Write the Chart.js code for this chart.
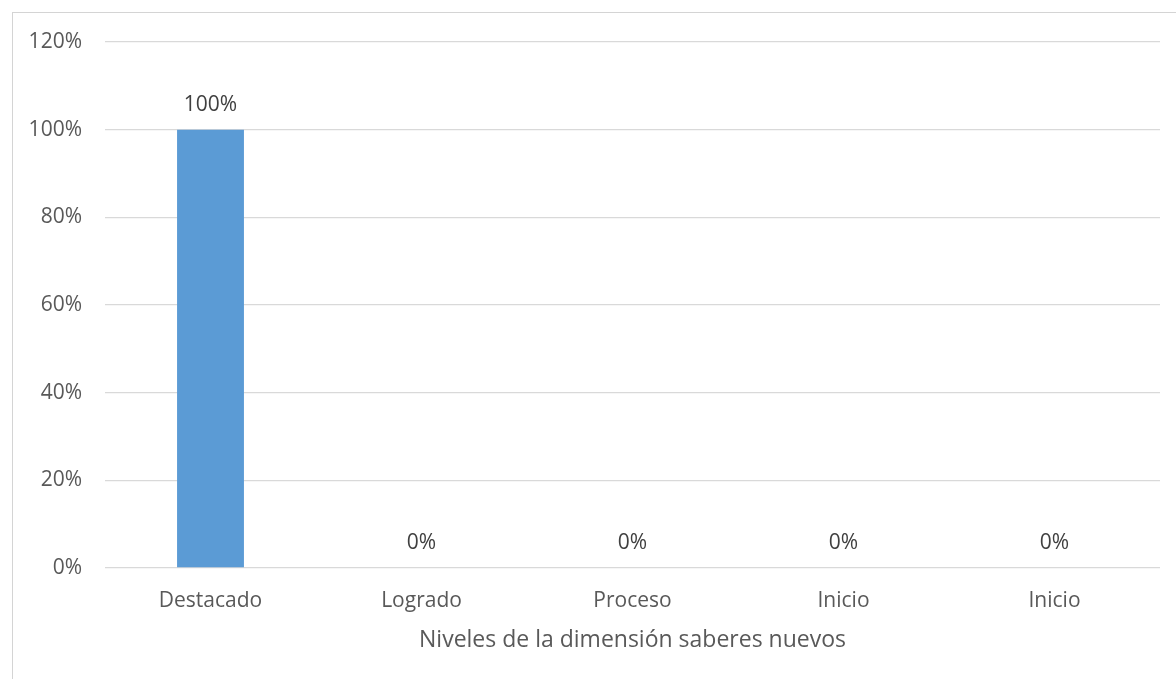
<!DOCTYPE html>
<html>
<head>
<meta charset="utf-8">
<script src="https://cdn.jsdelivr.net/npm/chart.js@4.4.1/dist/chart.umd.min.js"></script>
<style>
  html, body { margin: 0; padding: 0; background: #ffffff; overflow: hidden; }
  #wrap { position: relative; width: 1176px; height: 679px; }
  #frame { position: absolute; left: 12px; top: 12px; width: 1200px; height: 700px; border: 1px solid #d4d4d4; box-sizing: border-box; }
  canvas { position: absolute; left: 0; top: 0; }
</style>
</head>
<body>
<div id="wrap">
  <div id="frame"></div>
  <canvas id="c" width="1176" height="679"></canvas>
</div>
<script>
const categories = ["Destacado", "Logrado", "Proceso", "Inicio", "Inicio"];
const values = [100, 0, 0, 0, 0];
const yTicks = [0, 20, 40, 60, 80, 100, 120];
const axisTitle = "Niveles de la dimensión saberes nuevos";

const FONT = "'Open Sans', 'Noto Sans', sans-serif";

const dataLabels = {
  id: 'dataLabels',
  afterDatasetsDraw(chart) {
    const ctx = chart.ctx;
    const meta = chart.getDatasetMeta(0);
    ctx.save();
    ctx.font = "21px " + FONT;
    ctx.fillStyle = '#404040';
    ctx.textAlign = 'center';
    ctx.textBaseline = 'middle';
    meta.data.forEach((bar, i) => {
      ctx.fillText(values[i] + '%', bar.x, bar.y - 25);
    });
    ctx.restore();
  }
};

new Chart(document.getElementById('c'), {
  type: 'bar',
  data: {
    labels: categories,
    datasets: [{
      data: values,
      backgroundColor: '#5B9BD5',
      borderWidth: 0,
      barPercentage: 0.317,
      categoryPercentage: 1.0
    }]
  },
  options: {
    responsive: false,
    animation: false,
    devicePixelRatio: 1,
    layout: { padding: { top: 42, right: 16, bottom: 0, left: 0 } },
    plugins: { legend: { display: false }, tooltip: { enabled: false } },
    scales: {
      x: {
        grid: { display: false, drawTicks: false },
        border: { display: false },
        ticks: { color: '#595959', font: { family: FONT, size: 21 }, padding: 20, maxRotation: 0 },
        title: {
          display: true,
          text: axisTitle,
          color: '#595959',
          font: { family: FONT, size: 23 },
          padding: { top: 0, bottom: 25 }
        },
        afterFit(scale) { scale.height = 111; }
      },
      y: {
        min: 0,
        max: 120,
        afterBuildTicks(scale) { scale.ticks = yTicks.map(v => ({ value: v })); },
        grid: { color: '#d9d9d9', lineWidth: 1.3, drawTicks: false },
        border: { display: false },
        ticks: { color: '#595959', font: { family: FONT, size: 21 }, padding: 23, callback: v => v + '%' },
        afterFit(scale) { scale.width = 105; }
      }
    }
  },
  plugins: [dataLabels]
});
</script>
</body>
</html>
